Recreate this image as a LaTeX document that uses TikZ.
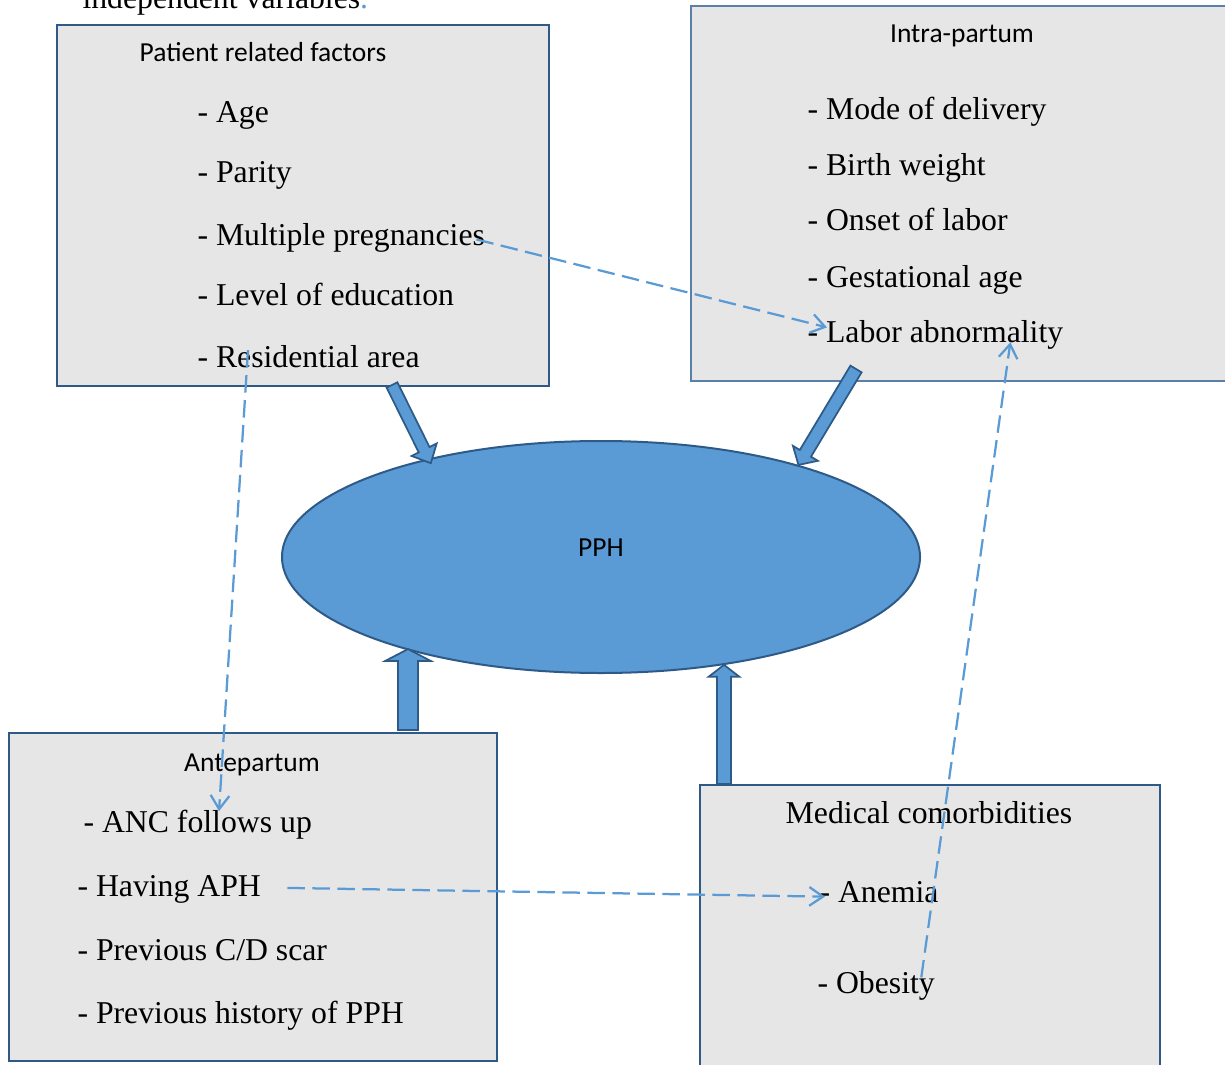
\documentclass[tikz,border=0pt]{standalone}
\usepackage{fontspec}
\setmainfont{Liberation Serif}
\newfontfamily\calibri{Carlito}
\usepackage{xcolor}
\usetikzlibrary{shapes}
\usetikzlibrary{calc}
\usetikzlibrary{arrows.meta}
\definecolor{boxfill}{HTML}{E6E6E6}
\definecolor{boxline}{HTML}{2E5A88}
\definecolor{boxlinelight}{HTML}{5A7FA8}
\definecolor{pphblue}{HTML}{5B9BD5}

\newcommand{\blockarrow}[5]{%
  \coordinate (ba-h) at ($(#2)!#5!(#1)$);
  \draw[blockarrow] ($(#1)!#3!90:(#2)$) -- ($(ba-h)!#3!-90:(#1)$) -- ($(ba-h)!#4!-90:(#1)$) -- (#2)
    -- ($(ba-h)!#4!90:(#1)$) -- ($(ba-h)!#3!90:(#1)$) -- ($(#1)!#3!-90:(#2)$) -- cycle;
}

\begin{document}
\begin{tikzpicture}[x=0.4pt,y=-0.4pt,
    factorbox/.style={draw=boxline,fill=boxfill,line width=0.8pt,anchor=north west,inner sep=0pt},
    boxtitle/.style={font=\calibri\fontsize{11}{13}\selectfont,anchor=base,inner sep=0pt},
    item/.style={font=\fontsize{12.7}{15}\selectfont,anchor=base west,inner sep=0pt},
    blockarrow/.style={draw=boxline,fill=pphblue,line width=0.7pt,line join=miter},
    link/.style={draw=pphblue,line width=0.9pt,dash pattern=on 7pt off 3pt,-{Straight Barb[length=5.5pt,width=7.5pt]}}]
        \useasboundingbox (0,0) rectangle (1225,1065);

        \node[item] (intro) at (82,9) {independent variables\textcolor{pphblue}{.}};

        \node[factorbox,minimum width=196.8pt,minimum height=144.4pt] (prf) at (56,24) {};
        \node[factorbox,draw=boxlinelight,minimum width=217.6pt,minimum height=150pt] (intra) at (690,5) {};
        \node[factorbox,minimum width=195.2pt,minimum height=131.2pt] (ante) at (8,732) {};
        \node[factorbox,minimum width=184pt,minimum height=124pt] (med) at (699,784) {};
        \node[ellipse,draw=boxline,fill=pphblue,line width=0.8pt,minimum width=255.2pt,minimum height=92.8pt,inner sep=0pt] (pph) at (601,557) {};

        \coordinate (prfout) at ($(prf.south)+(89,-2)$);
        \coordinate (pphin1) at ($(pph.150)+(1,5)$);
        \coordinate (intraout) at ($(intra.south)+(-107,-13)$);
        \coordinate (pphin2) at (pph.25);
        \coordinate (anteout) at ($(ante.north)+(155,-2)$);
        \coordinate (pphin3) at (anteout |- pph.205);
        \coordinate (medout) at ($(med.north)+(-206,0)$);
        \coordinate (pphin4) at (medout |- pph.319);
        \blockarrow{prfout}{pphin1}{2.4pt}{5.6pt}{6pt}
        \blockarrow{intraout}{pphin2}{2.6pt}{5.8pt}{5.4pt}
        \blockarrow{anteout}{pphin3}{4pt}{9.2pt}{4.8pt}
        \blockarrow{medout}{pphin4}{2.8pt}{6.2pt}{4.8pt}

        \node[boxtitle] (pphtitle) at (601,556) {PPH};

        \node[boxtitle] (prftitle) at (263,62) {Patient related factors};
        \node[item] (age) at (197,123) {- Age};
        \node[item] (parity) at (197,183) {- Parity};
        \node[item] (multi) at (197,245) {- Multiple pregnancies};
        \node[item] (edu) at (197,306) {- Level of education};
        \node[item] (resid) at (197,367) {- Residential area};

        \node[boxtitle] (intratitle) at (962,43) {Intra-partum};
        \node[item] (mode) at (807,120) {- Mode of delivery};
        \node[item] (birth) at (807,176) {- Birth weight};
        \node[item] (onset) at (807,231) {- Onset of labor};
        \node[item] (gest) at (807,287) {- Gestational age};
        \node[item] (labab) at (807,342) {- Labor abnormality};

        \node[boxtitle] (antetitle) at (252,771) {Antepartum};
        \node[item] (anc) at (83,832) {- ANC follows up};
        \node[item] (aph) at (77,896) {- Having APH};
        \node[item] (scar) at (77,960) {- Previous C/D scar};
        \node[item] (hist) at (77,1023) {- Previous history of PPH};

        \node[item,anchor=base] (medtitle) at (929,823) {Medical comorbidities};
        \node[item] (anemia) at (819,902) {- Anemia};
        \node[item] (obes) at (817,993) {- Obesity};

        \draw[link] ($(multi.east)+(-9,2)$) -- ($(labab.west)+(20,-7)$);
        \draw[link] ($(resid.west)+(51,-6)$) -- ($(anc.north west)+(136,2)$);
        \draw[link] ($(aph.east)+(26,-1)$) -- ($(anemia.west)+(6,5)$);
        \draw[link] ($(obes.east)+(-14,-8)$) -- ($(labab.south)+(75,-7)$);
    \end{tikzpicture}
\end{document}
